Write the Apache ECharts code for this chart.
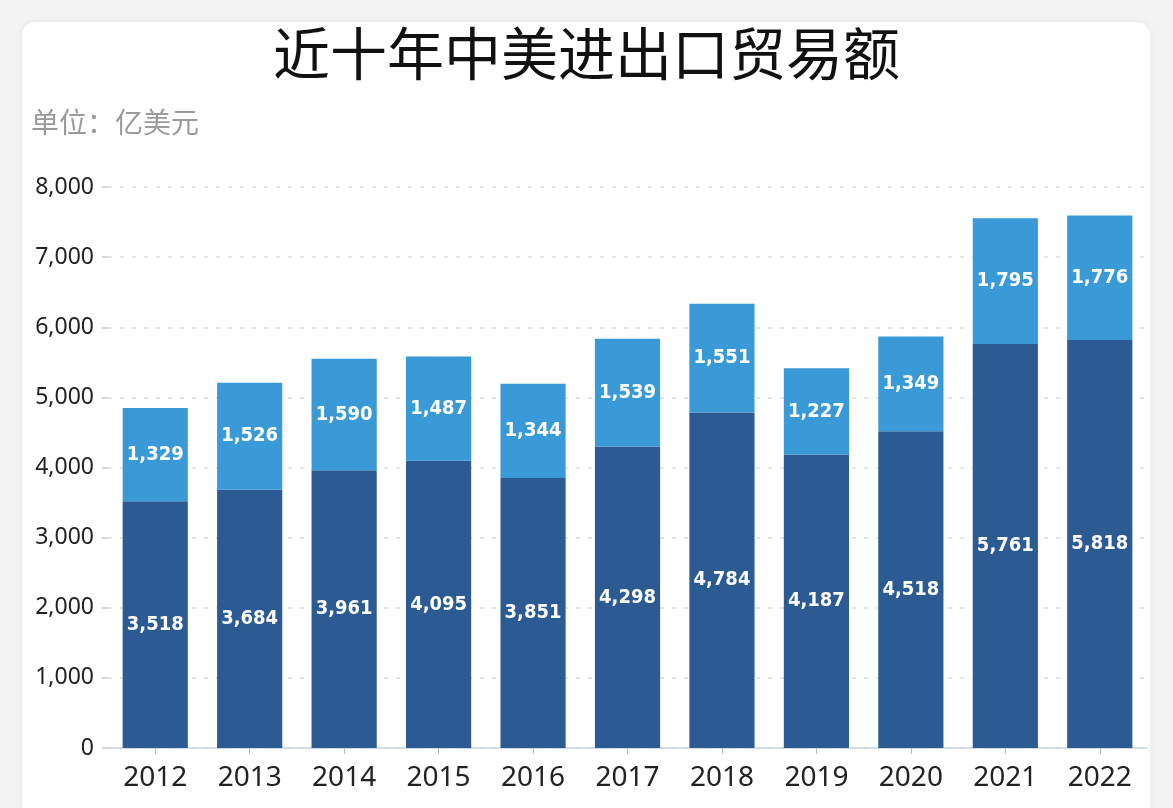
<!DOCTYPE html>
<html><head><meta charset="utf-8">
<script src="https://cdn.jsdelivr.net/npm/echarts@6/dist/echarts.min.js"></script>
<style>html,body{margin:0;padding:0;background:#f3f3f3;}#c{width:1173px;height:808px;}</style>
</head><body><div id="c"></div>
<script>
const years = ['2012','2013','2014','2015','2016','2017','2018','2019','2020','2021','2022'];
const exportsToUS = [3518,3684,3961,4095,3851,4298,4784,4187,4518,5761,5818];
const importsFromUS = [1329,1526,1590,1487,1344,1539,1551,1227,1349,1795,1776];
const yTicks = {min:0, max:8000, interval:1000};

const fmt = v => Number(v).toLocaleString('en-US');
const chart = echarts.init(document.getElementById('c'));
const labelStyle = {
  show:true, position:'inside', color:'#ffffff', fontSize:20, fontWeight:'bold',
  fontFamily:'DejaVu Sans Condensed, DejaVu Sans', formatter:p=>fmt(p.value)
};
chart.setOption({
  backgroundColor:'#f3f3f3',
  animation:false,
  graphic:[{
    type:'rect', left:22, top:22, z:-10,
    shape:{width:1128, height:820, r:14},
    style:{fill:'#ffffff', shadowBlur:6, shadowColor:'rgba(0,0,0,0.06)'}
  }],
  title:[{
    text:'近十年中美进出口贸易额', left:'center', top:20,
    textStyle:{fontSize:57, fontWeight:'normal', color:'#111', fontFamily:'Noto Sans CJK SC'}
  },{
    text:'单位：亿美元', left:26, top:103,
    textStyle:{fontSize:28, fontWeight:'normal', color:'#9a9a9a', fontFamily:'Noto Sans CJK SC'}
  }],
  grid:{left:108, right:26, top:187, bottom:60, outerBoundsMode:'none', containLabel:false},
  xAxis:{
    type:'category', data:years,
    axisLine:{lineStyle:{color:'#c9d3dd', width:1.5}},
    axisTick:{show:true, alignWithLabel:true, length:6, lineStyle:{color:'#bbbbbb'}},
    axisLabel:{color:'#222', fontSize:28, margin:16, fontFamily:'Noto Sans'}
  },
  yAxis:{
    type:'value', min:yTicks.min, max:yTicks.max, interval:yTicks.interval,
    axisLine:{show:false},
    axisTick:{show:true, length:6, lineStyle:{color:'#cccccc', width:1.5}},
    splitLine:{lineStyle:{color:'#dddddd', type:[4,8], width:1.5}},
    axisLabel:{color:'#222', fontSize:23, margin:14, fontFamily:'Noto Sans', formatter:v=>fmt(v)}
  },
  series:[{
    name:'中国对美出口', type:'bar', stack:'total', data:exportsToUS,
    barCategoryGap:'31%', itemStyle:{color:'#2b5b92'}, label:labelStyle
  },{
    name:'中国自美进口', type:'bar', stack:'total', data:importsFromUS,
    barCategoryGap:'31%', itemStyle:{color:'#3a9ad8'}, label:labelStyle
  }]
});
</script></body></html>
